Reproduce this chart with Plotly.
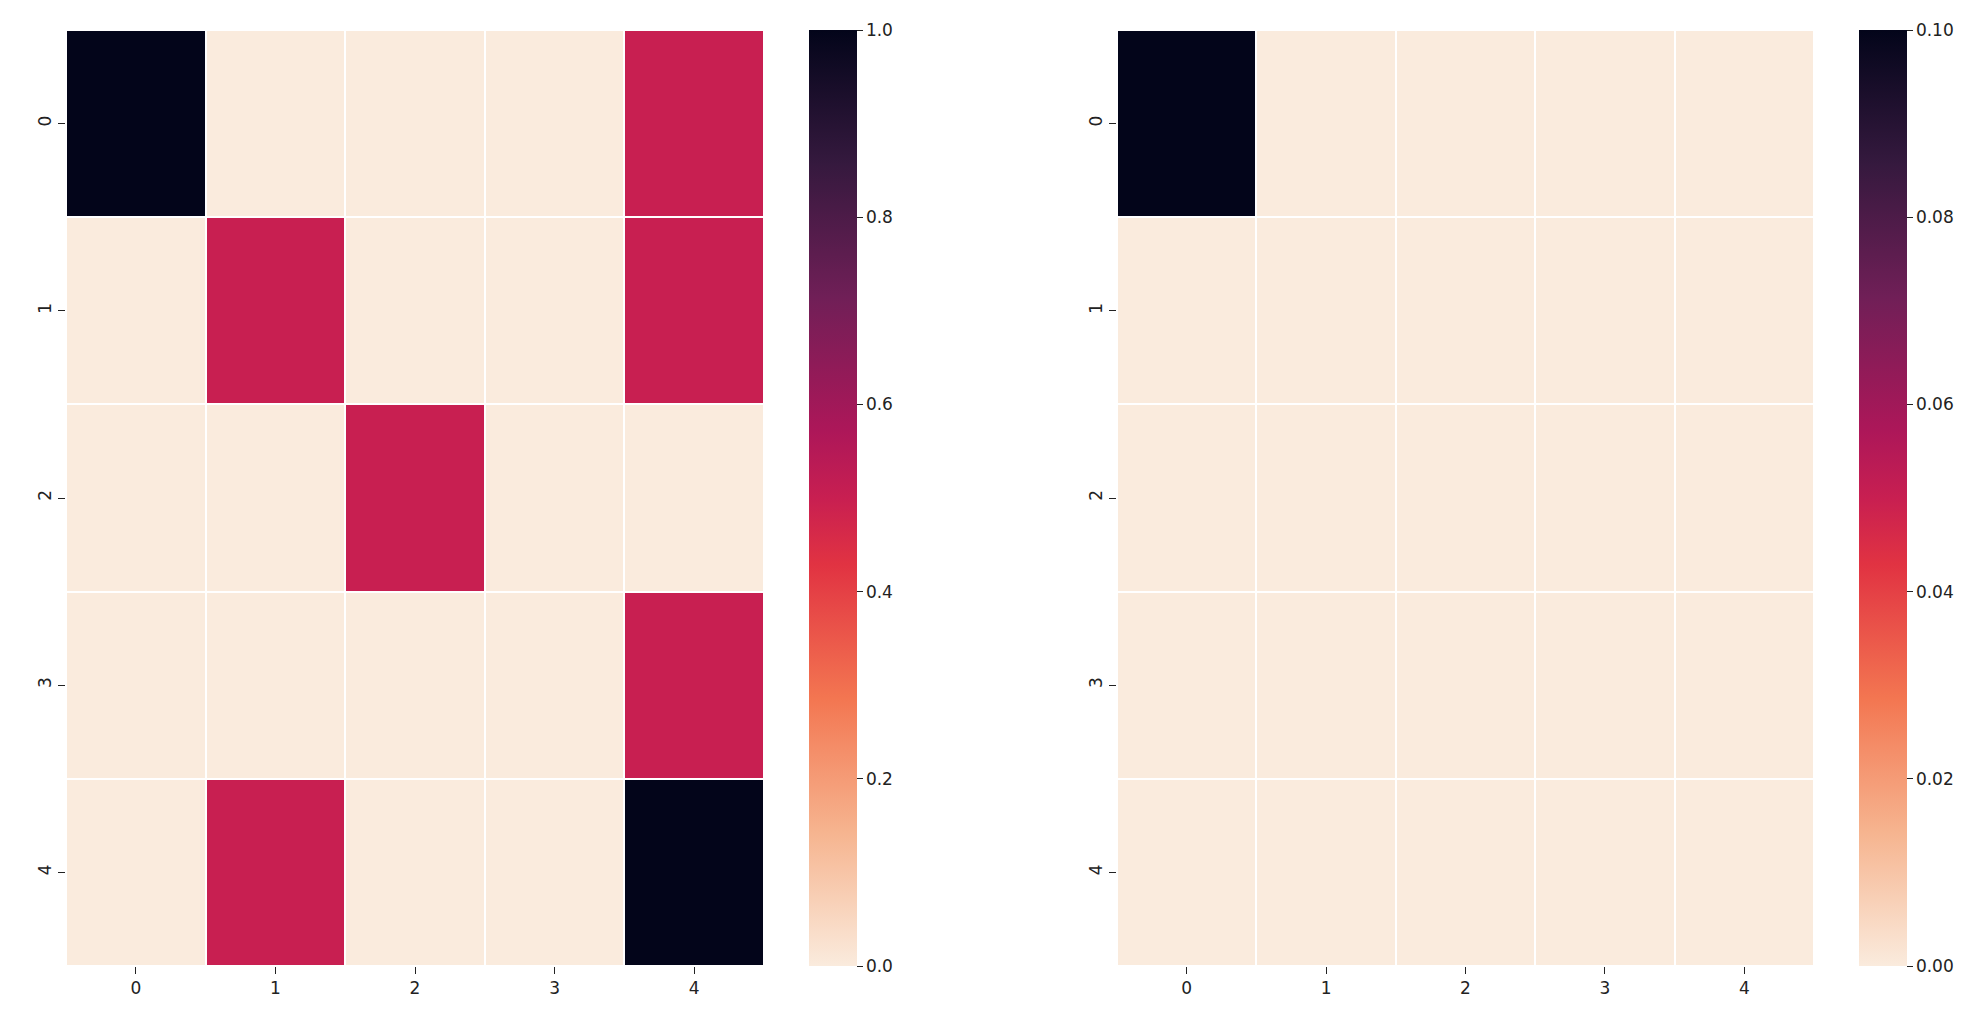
import plotly.graph_objects as go

# cell values
rows = [0, 1, 2, 3, 4]
cols = [0, 1, 2, 3, 4]

left_z = [
    [1.0, 0.0, 0.0, 0.0, 0.5],
    [0.0, 0.5, 0.0, 0.0, 0.5],
    [0.0, 0.0, 0.5, 0.0, 0.0],
    [0.0, 0.0, 0.0, 0.0, 0.5],
    [0.0, 0.5, 0.0, 0.0, 1.0],
]
right_z = [
    [0.1, 0.0, 0.0, 0.0, 0.0],
    [0.0, 0.0, 0.0, 0.0, 0.0],
    [0.0, 0.0, 0.0, 0.0, 0.0],
    [0.0, 0.0, 0.0, 0.0, 0.0],
    [0.0, 0.0, 0.0, 0.0, 0.0],
]

left_ticks = [0.0, 0.2, 0.4, 0.6, 0.8, 1.0]
left_ticktext = ["0.0", "0.2", "0.4", "0.6", "0.8", "1.0"]
right_ticks = [0.0, 0.02, 0.04, 0.06, 0.08, 0.10]
right_ticktext = ["0.00", "0.02", "0.04", "0.06", "0.08", "0.10"]

# seaborn "rocket_r" approximation
rocket_r = [
    [0.0, "#faebdd"],
    [1 / 7, "#f6b48f"],
    [2 / 7, "#f37651"],
    [3 / 7, "#e13342"],
    [0.5, "#c81f51"],
    [4 / 7, "#ad1759"],
    [5 / 7, "#701f57"],
    [6 / 7, "#35193e"],
    [1.0, "#03051a"],
]

W, H = 1982, 1018
ML, MR, MT, MB = 66, 76, 30, 52
PW, PH = W - ML - MR, H - MT - MB
font = dict(family="DejaVu Sans", size=17, color="#222222")


def dom_x(a, b):
    return [(a - ML) / PW, (b - ML) / PW]


fig = go.Figure()

cb_common = dict(
    xanchor="left", thickness=48, thicknessmode="pixels",
    y=0.5, yanchor="middle", len=1, lenmode="fraction",
    xpad=0, ypad=0,
    ticks="outside", ticklen=6, tickcolor="#222222", tickfont=font,
    outlinewidth=0,
)

fig.add_trace(go.Heatmap(
    z=left_z, x=cols, y=rows, xaxis="x", yaxis="y",
    colorscale=rocket_r, zmin=0, zmax=1, xgap=2, ygap=2,
    colorbar=dict(x=(809 - ML) / PW, tickvals=left_ticks, ticktext=left_ticktext, **cb_common),
))

fig.add_trace(go.Heatmap(
    z=right_z, x=cols, y=rows, xaxis="x2", yaxis="y2",
    colorscale=rocket_r, zmin=0, zmax=0.1, xgap=2, ygap=2,
    colorbar=dict(x=(1859 - ML) / PW, tickvals=right_ticks, ticktext=right_ticktext, **cb_common),
))

axis_common = dict(showgrid=False, zeroline=False, ticks="outside", ticklen=7,
                   tickcolor="#222222", tickfont=font, showline=False)

fig.update_layout(
    width=W, height=H,
    margin=dict(l=ML, r=MR, t=MT, b=MB, autoexpand=False),
    paper_bgcolor="white", plot_bgcolor="white",
    showlegend=False,
    xaxis=dict(domain=dom_x(66, 764), tickvals=cols, range=[-0.5, 4.5], anchor="y", **axis_common),
    yaxis=dict(domain=[0, 1], tickvals=rows, range=[4.5, -0.5], tickangle=-90, anchor="x", **axis_common),
    xaxis2=dict(domain=dom_x(1117, 1814), tickvals=cols, range=[-0.5, 4.5], anchor="y2", **axis_common),
    yaxis2=dict(domain=[0, 1], tickvals=rows, range=[4.5, -0.5], tickangle=-90, anchor="x2", **axis_common),
)

# drop the browser's default body margin so the figure sits at the page corner
fig.write_html("out.html", config={"displayModeBar": False},
               post_script="document.body.style.margin='0';")
